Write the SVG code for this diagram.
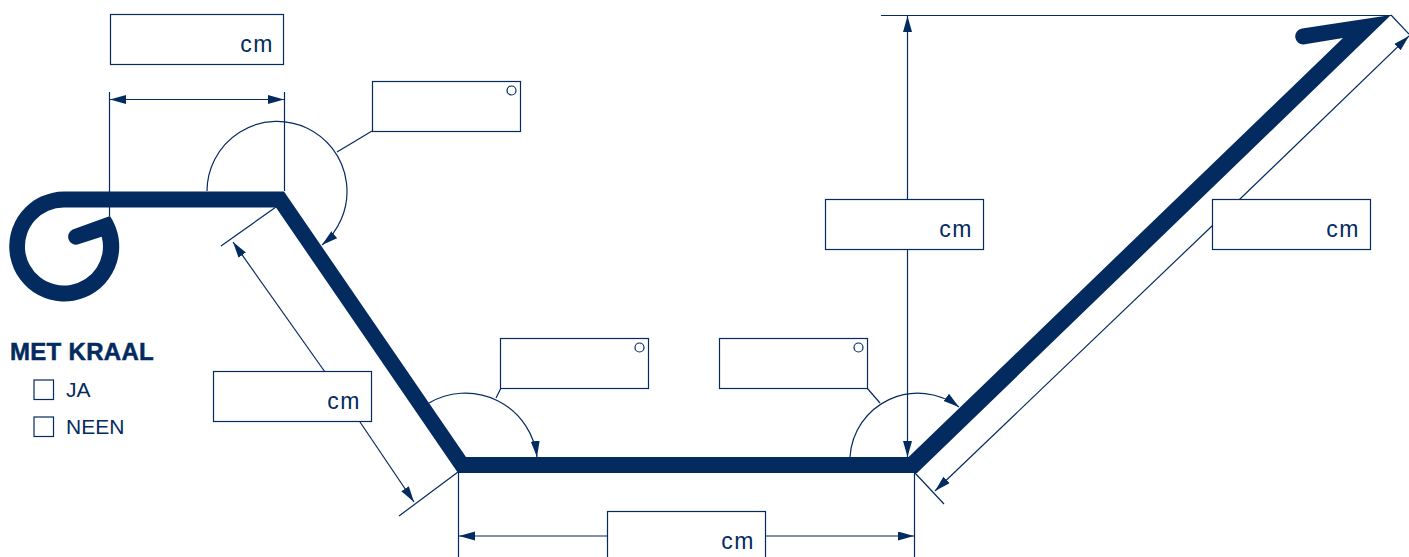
<svg xmlns="http://www.w3.org/2000/svg" width="1409" height="557" viewBox="0 0 1409 557">
<style>
.t{fill:none;stroke:#032b60;stroke-width:1.200}
.b{fill:#fff;stroke:#032b60;stroke-width:1.200}
text{font-family:"Liberation Sans",Arial,sans-serif;fill:#032b60}
.c{font-size:23px;letter-spacing:1.500px;text-anchor:end}
.o{font-size:21px}
</style>
<defs>
<marker id="a" markerUnits="userSpaceOnUse" markerWidth="17" markerHeight="10" refX="16" refY="4.500" orient="auto-start-reverse"><path d="M0 0L16 4.500L0 9Z" fill="#032b60"/></marker>
</defs>
<rect width="1409" height="557" fill="#fff"/>
<g id="connectors">
<path class="t" d="M109.500 92V216M284.500 92V191M221 246L276 207M399 516L458 472M458.500 472V557M914.500 473V557M881 15.500H1391M1391 15L1409 34M915 473L944 504"/>
<path class="t" d="M110 99.500H284" marker-start="url(#a)" marker-end="url(#a)"/>
<path class="t" d="M233 242L325 372" marker-start="url(#a)"/>
<path class="t" d="M360 422L414 502" marker-end="url(#a)"/>
<path class="t" d="M459 536H607" marker-start="url(#a)"/>
<path class="t" d="M766 536H914" marker-end="url(#a)"/>
<path class="t" d="M907.500 16V200" marker-start="url(#a)"/>
<path class="t" d="M907.500 250V457" marker-end="url(#a)"/>
<path class="t" d="M1409 36L1212 226" marker-start="url(#a)"/>
<path class="t" d="M1212 226L935 491" marker-end="url(#a)"/>
<path class="t" d="M207 191A70 70 0 1 1 322 245" marker-end="url(#a)"/>
<path class="t" d="M429 403A72 72 0 0 1 537 457" marker-end="url(#a)"/>
<path class="t" d="M850 457A68 68 0 0 1 959 407" marker-end="url(#a)"/>
<path class="t" d="M337 152L372 131M496 398L501 388M867 388L880 403"/>
</g>
<g id="profile">
<path fill="#032b60" d="M64 191.500H284L466 457H908.600L1343 38L1303.500 44.500A8 8 0 0 1 1302 28.600L1391 15L917 473H458L276 207.500H64A39 39 0 1 0 101.700 236.700L77.500 244.600A8 8 0 0 1 72.700 229.500L110 216A55 55 0 1 1 64 191.500Z"/>
</g>
<g id="dim-top"><rect class="b" x="110.500" y="14.500" width="173" height="50"/><text class="c" x="274" y="52">cm</text></g>
<g id="angle-1"><rect class="b" x="372.500" y="81.500" width="148" height="50"/><circle class="t" cx="511.500" cy="90.500" r="4.500"/></g>
<g id="angle-2"><rect class="b" x="500.500" y="338.500" width="148" height="50"/><circle class="t" cx="639.500" cy="347.500" r="4.500"/></g>
<g id="angle-3"><rect class="b" x="719.500" y="338.500" width="148" height="50"/><circle class="t" cx="858.500" cy="347.500" r="4.500"/></g>
<g id="dim-height"><rect class="b" x="825.500" y="199.500" width="158" height="50"/><text class="c" x="973" y="237">cm</text></g>
<g id="dim-right"><rect class="b" x="1212.500" y="199.500" width="158" height="50"/><text class="c" x="1360" y="237">cm</text></g>
<g id="dim-left"><rect class="b" x="213.500" y="371.500" width="158" height="50"/><text class="c" x="361" y="409">cm</text></g>
<g id="dim-bottom"><rect class="b" x="607.500" y="511.500" width="158" height="50"/><text class="c" x="755" y="549">cm</text></g>
<g id="legend">
<text x="10" y="359.500" font-size="24" font-weight="700" letter-spacing=".3" stroke="#032b60" stroke-width=".5">MET KRAAL</text>
<rect class="t" x="34" y="380" width="19.500" height="19.500"/>
<text class="o" x="66" y="397">JA</text>
<rect class="t" x="34" y="417" width="19.500" height="19.500"/>
<text class="o" x="66" y="434">NEEN</text>
</g>
</svg>
